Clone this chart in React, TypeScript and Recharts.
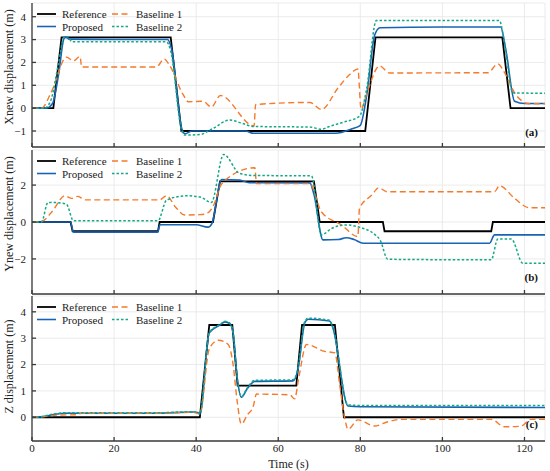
import { LineChart, Line, XAxis, YAxis, CartesianGrid, Legend } from "recharts";

type Pt = [number, number];

// time axis shared by the three panels
const timeTicks = [0, 20, 40, 60, 80, 100, 120];
const xnewTicks = [-1, 0, 1, 2, 3, 4];
const ynewTicks = [-2, 0, 2];
const zTicks = [0, 1, 2, 3, 4];

const seriesNames = ["Reference", "Proposed", "Baseline 1", "Baseline 2"];

// (a) Xnew displacement
const xnewReference: Pt[] = [
  [0, 0], [5.2, 0], [7.2, 3.1], [33.8, 3.1], [36.4, -1], [81.2, -1], [83.7, 3.1],
  [114.6, 3.1], [116.6, 0], [125, 0],
];
const xnewProposed: Pt[] = [
  [0, 0], [3.5, 0], [5, 0.2], [6.5, 1.5], [7.8, 3.05], [8.3, 3.12], [9, 3.02], [20, 3.0],
  [33.0, 3.0], [34, 2.6], [36.5, -0.9], [37.3, -1.12], [39, -1.0], [52, -1.0], [54, -1.1],
  [74, -1.1], [78, -0.9], [80, -0.75], [81.5, 0.5], [83.5, 3.2], [84.8, 3.52], [100, 3.55],
  [114.2, 3.55], [115.5, 2.5], [117.6, 0.3], [120, 0.2], [125, 0.2],
];
const xnewBaseline1: Pt[] = [
  [0, 0], [2.3, 0], [4.8, 0.74], [8.4, 2.23], [10.1, 2.07], [11.7, 2.26], [12.1, 1.8],
  [30.3, 1.8], [32.2, 2.15], [33.6, 1.85], [36.8, 0.6], [38.1, 0.28], [41.7, 0.3],
  [43.7, 0.05], [45.9, 0.55], [54.1, -0.78], [54.5, 0.16], [67.7, 0.25], [70.5, -0.06],
  [74.6, 0.89], [77.4, 1.47], [79.4, 1.71], [80.2, -0.05], [81.5, 0.6], [84.7, 1.85],
  [87.1, 1.54], [111.1, 1.55], [113.5, 1.94], [115, 1.6], [117.6, 0.67], [121.2, 0.19],
  [125, 0.19],
];
const xnewBaseline2: Pt[] = [
  [0, 0], [3, 0], [4.5, 0.3], [6.5, 2], [7.8, 3.1], [8.8, 3.12], [9.7, 2.9], [32.8, 2.9],
  [33.8, 2.5], [36.5, -1.0], [37.3, -1.18], [41, -1.15], [44, -0.9], [48.2, -0.52],
  [51, -0.65], [54, -0.8], [67.7, -0.83], [70.5, -0.92], [72.5, -0.8], [75.4, -0.64],
  [79.8, -0.35], [81.5, 0.8], [83.9, 3.83], [113.9, 3.83], [115, 3.0], [117.2, 0.67],
  [125, 0.65],
];

// (b) Ynew displacement
const ynewReference: Pt[] = [
  [0, 0], [9.4, 0], [9.9, -0.5], [30.7, -0.5], [31.1, 0], [44.1, 0], [45.8, 2.2],
  [68.7, 2.2], [70.1, 0], [85.5, 0], [85.9, -0.5], [111.9, -0.5], [112.3, 0], [125, 0],
];
const ynewProposed: Pt[] = [
  [0, 0], [9.4, 0], [10.1, -0.55], [30.6, -0.55], [31.2, -0.15], [40, -0.15], [42.9, -0.28],
  [43.8, -0.1], [46.2, 2.3], [50.6, 2.27], [52.9, 2.13], [67.7, 2.12], [68.7, 1.5],
  [70.9, -0.97], [74.6, -0.95], [76.6, -0.85], [78.5, -0.95], [80.7, -1.15], [111.5, -1.15],
  [112.7, -0.7], [125, -0.7],
];
const ynewBaseline1: Pt[] = [
  [0, 0], [2.5, 0.05], [5, 0.6], [8.0, 1.42], [9.7, 1.28], [11.2, 1.39], [12.9, 1.2],
  [31.1, 1.2], [32.8, 1.42], [35, 0.8], [37.2, 0.38], [40.9, 0.4], [42.5, 0.45],
  [44.5, 1.03], [45.8, 1.9], [47, 2.25], [54.3, 2.94], [54.7, 2.08], [67.7, 2.08],
  [70.5, 0.56], [75.4, -0.16], [79.4, -0.79], [79.8, 0.74], [82.8, 1.46], [84.5, 1.85],
  [86.5, 1.64], [112.7, 1.64], [113.9, 1.96], [117.6, 1.28], [121.2, 0.77], [125, 0.77],
];
const ynewBaseline2: Pt[] = [
  [0, 0], [2.3, 0], [3.9, 1.06], [6, 1.05], [8.4, 0.96], [10.1, 0.07], [30.7, 0.07],
  [32.8, 1.19], [37.6, 1.42], [41, 1.35], [43.7, 1.06], [46.7, 3.66], [50.6, 2.63],
  [53.9, 2.52], [68.1, 2.5], [70.5, -0.7], [73, -0.35], [76.6, -0.16], [80, -0.3],
  [83.5, -0.67], [84.8, -0.97], [86.7, -2.02], [111.9, -2.05], [113.5, -0.92],
  [116.8, -0.92], [119.6, -2.23], [125, -2.23],
];

// (c) Z displacement
const zReference: Pt[] = [
  [0, 0], [40.9, 0], [43.2, 3.5], [48.8, 3.5], [50.1, 1.2], [64.4, 1.2], [65.8, 3.5],
  [73.8, 3.5], [76.0, 0], [125, 0],
];
const zProposed: Pt[] = [
  [0, 0], [2.5, 0.02], [5.5, 0.11], [8, 0.15], [30, 0.15], [39.3, 0.2], [40.4, 0.18],
  [40.9, 0.12], [43.2, 3.2], [45.8, 3.5], [47, 3.62], [48.2, 3.55], [49, 3.2], [50, 1.5],
  [51, 0.76], [52.5, 1.1], [54.3, 1.36], [63.6, 1.38], [64.8, 1.8], [66.5, 3.6],
  [67.3, 3.72], [72.5, 3.65], [73.3, 3.4], [77, 0.43], [80, 0.4], [125, 0.37],
];
const zBaseline1: Pt[] = [
  [0, 0], [3, 0.03], [6, 0.08], [11, 0.1], [12, 0.15], [30, 0.15], [39.3, 0.19],
  [40.9, 0.12], [43.2, 2.6], [45.4, 2.92], [47.8, 2.76], [49, 2.0], [50, 0.6], [51, -0.26],
  [52.5, 0.1], [53.9, 0.41], [54.7, 0.88], [62.8, 0.85], [64, 0.7], [65, 1.5], [66.9, 2.76],
  [71.3, 2.5], [73.8, 2.44], [75, 1.2], [76.2, -0.04], [77, -0.46], [79.4, -0.1],
  [83.5, -0.33], [86.7, -0.17], [90, -0.08], [111.9, -0.08], [115.1, -0.36],
  [119.1, -0.34], [121.6, -0.08], [125, -0.08],
];
const zBaseline2: Pt[] = [
  [0, 0], [2.5, 0.03], [5.5, 0.13], [8, 0.17], [30, 0.17], [39.3, 0.21], [40.4, 0.19],
  [40.9, 0.13], [43.2, 3.22], [45.8, 3.52], [47, 3.64], [48.2, 3.57], [49, 3.2], [50, 1.5],
  [51, 0.78], [52.5, 1.12], [54.3, 1.4], [63.6, 1.42], [64.8, 1.85], [66.5, 3.65],
  [67.3, 3.76], [72.5, 3.68], [73.3, 3.42], [77, 0.47], [80, 0.45], [125, 0.45],
];

const FONT = '"Liberation Serif", "Times New Roman", serif';
const AXIS = "#3a3a3a";

const styles = [
  { color: "#000000", width: 1.8, dash: undefined, curve: "linear" },
  { color: "#1864b4", width: 1.6, dash: undefined, curve: "monotone" },
  { color: "#f47a2c", width: 1.4, dash: "6 3.5", curve: "monotone" },
  { color: "#14a884", width: 1.5, dash: "2.5 2", curve: "monotone" },
] as const;

const minus = (v: number) => String(v).replace("-", "\u2212");

function LegendBox() {
  const items = [
    { i: 0, x: 37, len: 19, y: 14 },
    { i: 1, x: 37, len: 19, y: 26.5 },
    { i: 2, x: 112, len: 16, y: 14 },
    { i: 3, x: 112, len: 16, y: 26.5 },
  ];
  return (
    <svg width={200} height={34} style={{ display: "block" }}>
      {items.map(({ i, x, len, y }) => (
        <g key={i}>
          <line
            x1={x}
            x2={x + len}
            y1={y}
            y2={y}
            stroke={styles[i].color}
            strokeWidth={styles[i].width}
            strokeDasharray={styles[i].dash}
          />
          <text x={x + (i < 2 ? 25 : 24)} y={y} dominantBaseline="central" fontFamily={FONT} fontSize={11} fill="#222">
            {seriesNames[i]}
          </text>
        </g>
      ))}
    </svg>
  );
}

interface PanelProps {
  top: number;
  height: number;
  showTime: boolean;
  yLabel: string;
  yLabelShift: number;
  yDomain: [number, number];
  yTicks: number[];
  tag: string;
  tagY: number;
  series: Pt[][];
}

function Panel({ top, height, showTime, yLabel, yLabelShift, yDomain, yTicks, tag, tagY, series }: PanelProps) {
  const tickStyle = { fontFamily: FONT, fontSize: 11, fill: "#222" };
  return (
    <div style={{ position: "absolute", left: 0, top, width: 550, height }}>
      <LineChart width={550} height={height} margin={{ top: 3, right: 5, bottom: 0, left: 0 }}>
        <CartesianGrid stroke="#e6e6e6" strokeWidth={0.8} />
        <XAxis
          dataKey="t"
          type="number"
          domain={[0, 125]}
          ticks={timeTicks}
          interval={0}
          height={showTime ? 30 : 3}
          tickSize={-4}
          tickMargin={7}
          tick={tickStyle}
          tickFormatter={showTime ? (v: number) => String(v) : () => ""}
          stroke={AXIS}
          strokeWidth={1.3}
          label={
            showTime
              ? { value: "Time (s)", position: "insideBottom", offset: 3, style: { fontFamily: FONT, fontSize: 12, fill: "#222" } }
              : undefined
          }
        />
        <XAxis xAxisId="top" orientation="top" type="number" domain={[0, 125]} height={0} tick={false} tickLine={false} stroke={AXIS} strokeWidth={1.3} />
        <YAxis
          type="number"
          domain={yDomain}
          ticks={yTicks}
          interval={0}
          width={32}
          tickSize={-4}
          tickMargin={10}
          tick={tickStyle}
          tickFormatter={minus}
          stroke={AXIS}
          strokeWidth={1.3}
          allowDataOverflow
          label={{
            value: yLabel,
            content: (p: any) => {
              const vb = p.viewBox || { y: 0, height: 0 };
              const cy = vb.y + vb.height / 2 + yLabelShift;
              return (
                <text
                  x={9}
                  y={cy}
                  transform={`rotate(-90, 9, ${cy})`}
                  textAnchor="middle"
                  dominantBaseline="central"
                  fontFamily={FONT}
                  fontSize={12}
                  fill="#222"
                >
                  {yLabel}
                </text>
              );
            },
          }}
        />
        <YAxis yAxisId="right" orientation="right" type="number" domain={yDomain} width={0} tick={false} tickLine={false} stroke={AXIS} strokeWidth={1.3} />
        <Legend
          layout="vertical"
          align="center"
          verticalAlign="middle"
          content={() => <LegendBox />}
          wrapperStyle={{ left: 0, top: 0, width: 200, height: 34 }}
        />
        {series.map((pts, i) => (
          <Line
            key={seriesNames[i]}
            name={seriesNames[i]}
            data={pts.map(([t, v]) => ({ t, v }))}
            dataKey="v"
            type={styles[i].curve}
            stroke={styles[i].color}
            strokeWidth={styles[i].width}
            strokeDasharray={styles[i].dash}
            dot={false}
            activeDot={false}
            isAnimationActive={false}
          />
        ))}
      </LineChart>
      <div
        style={{
          position: "absolute",
          right: 12,
          top: tagY - 8,
          fontFamily: FONT,
          fontSize: 11,
          fontWeight: "bold",
          color: "#111",
          lineHeight: "16px",
        }}
      >
        {tag}
      </div>
    </div>
  );
}

export default function App() {
  return (
    <div style={{ position: "relative", width: 550, height: 471, background: "#fff" }}>
      <style>{"body{margin:0;background:#fff}"}</style>
      <Panel
        top={0}
        height={150}
        showTime={false}
        yLabel="Xnew displacement (m)"
        yLabelShift={-8}
        yDomain={[-1.7, 4.6]}
        yTicks={xnewTicks}
        tag="(a)"
        tagY={131.7}
        series={[xnewReference, xnewProposed, xnewBaseline1, xnewBaseline2]}
      />
      <Panel
        top={147}
        height={150}
        showTime={false}
        yLabel="Ynew displacement (m)"
        yLabelShift={-8}
        yDomain={[-3.9, 3.9]}
        yTicks={ynewTicks}
        tag="(b)"
        tagY={130}
        series={[ynewReference, ynewProposed, ynewBaseline1, ynewBaseline2]}
      />
      <Panel
        top={293}
        height={178}
        showTime
        yLabel="Z displacement (m)"
        yLabelShift={-2}
        yDomain={[-0.9, 4.6]}
        yTicks={zTicks}
        tag="(c)"
        tagY={131}
        series={[zReference, zProposed, zBaseline1, zBaseline2]}
      />
    </div>
  );
}
